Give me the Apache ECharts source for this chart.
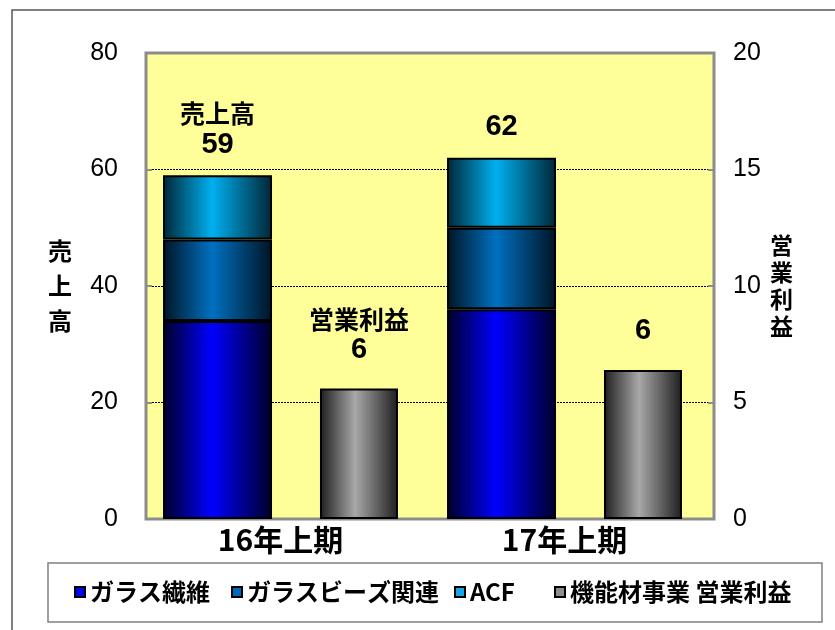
<!DOCTYPE html>
<html><head><meta charset="utf-8">
<script src="https://cdn.jsdelivr.net/npm/echarts@6/dist/echarts.min.js"></script>
<style>html,body{margin:0;padding:0;background:#fff}#c{width:835px;height:630px}</style>
</head><body><div id="c"></div>
<script>
const categories = ['16年上期', '17年上期'];
const glassFiber = [34, 36];
const glassBeads = [14, 14];
const acf = [11, 12];
const opProfit = [5.6, 6.4];
const seriesNames = ['ガラス繊維', 'ガラスビーズ関連', 'ACF', '機能材事業 営業利益'];
const salesAxisName = '売上高';
const profitAxisName = '営業利益';

const JP = "'Noto Sans CJK JP', sans-serif";
const NUM = "'Liberation Sans', Arial, sans-serif";

function grad(dark, bright) {
  return { type: 'linear', x: 0, y: 0, x2: 1, y2: 0,
    colorStops: [{ offset: 0, color: dark }, { offset: 0.45, color: bright }, { offset: 1, color: dark }] };
}
const vert = s => s.split('').join('\n');
const richStyles = {
  a: { fontFamily: JP, fontSize: 25, fontWeight: 'bold', lineHeight: 31, color: '#000' },
  b: { fontFamily: NUM, fontSize: 29, fontWeight: 'bold', lineHeight: 31, color: '#000' }
};
function legendItem(i, left, color) {
  return {
    data: [{ name: seriesNames[i], itemStyle: { color: color, borderColor: '#000', borderWidth: 2 } }],
    left: left, top: 580, padding: 0, itemWidth: 10, itemHeight: 10, icon: 'rect',
    selectedMode: false,
    textStyle: { fontFamily: JP, fontSize: 24, fontWeight: 'bold', color: '#000' }
  };
}

const chart = echarts.init(document.getElementById('c'));
chart.setOption({
  animation: false,
  graphic: [
    { type: 'rect', shape: { x: 12, y: 10, width: 830, height: 630 }, style: { fill: 'none', stroke: '#555', lineWidth: 1.5 }, silent: true },
    { type: 'rect', shape: { x: 48, y: 563, width: 774, height: 59 }, style: { fill: 'none', stroke: '#808080', lineWidth: 1.5 }, silent: true }
  ],
  legend: [
    legendItem(0, 74, '#0000FF'),
    legendItem(1, 231, '#0068B8'),
    legendItem(2, 454, '#18A4E6'),
    legendItem(3, 554, '#8C8C8C')
  ],
  grid: [
    { left: 146, right: 121, top: 53, bottom: 111, show: true, backgroundColor: '#FFFF99', borderColor: '#8c8c8c', borderWidth: 3 },
    { left: 138.5, right: 128.5, top: 53, bottom: 111 }
  ],
  xAxis: [
    { gridIndex: 0, type: 'category', data: categories, show: false },
    { gridIndex: 1, type: 'category', data: categories,
      axisLine: { show: false }, axisTick: { show: false },
      axisLabel: { fontFamily: JP, fontSize: 30, fontWeight: 'bold', color: '#000', margin: 6 } }
  ],
  yAxis: [
    { gridIndex: 0, type: 'value', position: 'left', min: 0, max: 80, interval: 20,
      name: vert(salesAxisName), nameLocation: 'middle', nameRotate: 0, nameGap: 74,
      nameTextStyle: { fontFamily: JP, fontSize: 24, fontWeight: 'bold', lineHeight: 35, color: '#000', padding: [22, 0, 0, 0] },
      axisLine: { show: false },
      axisTick: { show: true, inside: true, length: 6, lineStyle: { color: '#8c8c8c', width: 2 } },
      axisLabel: { fontFamily: NUM, fontSize: 25, color: '#000', margin: 28 },
      splitLine: { show: true, showMinLine: false, showMaxLine: false, lineStyle: { color: '#000', width: 1, type: [2, 1] } } },
    { gridIndex: 0, type: 'value', position: 'right', min: 0, max: 20, interval: 5,
      name: vert(profitAxisName), nameLocation: 'middle', nameRotate: 0, nameGap: 56,
      nameTextStyle: { fontFamily: JP, fontSize: 23, fontWeight: 'bold', lineHeight: 27, color: '#000' },
      axisLine: { show: false },
      axisTick: { show: true, inside: true, length: 6, lineStyle: { color: '#8c8c8c', width: 2 } },
      axisLabel: { fontFamily: NUM, fontSize: 25, color: '#000', margin: 19 },
      splitLine: { show: false } },
    { gridIndex: 1, type: 'value', min: 0, max: 80, interval: 20, show: false, splitLine: { show: false } },
    { gridIndex: 1, type: 'value', min: 0, max: 20, interval: 5, show: false, splitLine: { show: false } }
  ],
  series: [
    { name: seriesNames[0], type: 'bar', xAxisIndex: 1, yAxisIndex: 2, stack: 'sales', data: glassFiber,
      barWidth: 109, barGap: '44%',
      itemStyle: { color: grad('#000028', '#0000FF'), borderColor: '#000', borderWidth: 2 } },
    { name: seriesNames[1], type: 'bar', xAxisIndex: 1, yAxisIndex: 2, stack: 'sales', data: glassBeads,
      barWidth: 109, barGap: '44%',
      itemStyle: { color: grad('#001424', '#0070C0'), borderColor: '#000', borderWidth: 2 } },
    { name: seriesNames[2], type: 'bar', xAxisIndex: 1, yAxisIndex: 2, stack: 'sales', data: acf,
      barWidth: 109, barGap: '44%',
      itemStyle: { color: grad('#002636', '#00B0F0'), borderColor: '#000', borderWidth: 2 },
      label: { show: true, position: 'top', distance: 15,
        formatter: p => {
          const i = p.dataIndex;
          const total = glassFiber[i] + glassBeads[i] + acf[i];
          return i === 0 ? '{a|' + salesAxisName + '}\n{b|' + total + '}' : '{b|' + total + '}';
        },
        rich: richStyles } },
    { name: seriesNames[3], type: 'bar', xAxisIndex: 1, yAxisIndex: 3, data: opProfit,
      barWidth: 78, barGap: '44%',
      itemStyle: { color: grad('#1e1e1e', '#A8A8A8'), borderColor: '#000', borderWidth: 2 },
      label: { show: true, position: 'top', distance: 23,
        formatter: p => {
          const v = Math.round(p.value);
          return p.dataIndex === 0 ? '{a|' + profitAxisName + '}\n{b|' + v + '}' : '{b|' + v + '}';
        },
        rich: richStyles } }
  ]
});
</script>
</body></html>
